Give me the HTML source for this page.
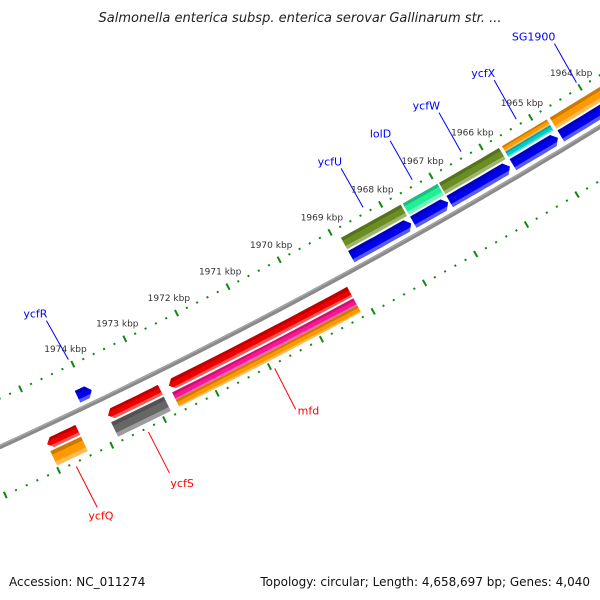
<!DOCTYPE html>
<html><head><meta charset="utf-8"><style>
html,body{margin:0;padding:0;background:#fff;}
svg{display:block;font-family:"DejaVu Sans","Liberation Sans",sans-serif;}
</style></head><body>
<svg id="map" width="600" height="600" viewBox="0 0 600 600" xmlns="http://www.w3.org/2000/svg">
<defs id="defs"></defs>
<text x="300" y="22" text-anchor="middle" font-size="13" font-style="italic" fill="#222">Salmonella enterica subsp. enterica serovar Gallinarum str. ...</text>
<g id="ticks"></g>
<g id="backbone"></g>
<g id="features"></g>
<g id="labels"></g>
<text x="9" y="586" font-size="12" fill="#111">Accession: NC_011274</text>
<text x="590" y="586" font-size="12" text-anchor="end" fill="#111">Topology: circular; Length: 4,658,697 bp; Genes: 4,040</text>
</svg>
<script>
const geneNames  = ["ycfU","lolD","ycfW","ycfX","SG1900","ycfR","ycfQ","ycfS","mfd"];
const geneStart  = [1967.70,1966.97,1965.74,1964.78,1963.30,1973.90,1974.41,1972.84,1969.19];
const geneEnd    = [1968.88,1967.66,1966.94,1965.68,1964.72,1974.17,1974.99,1973.84,1972.68];
const geneStrand = [1,1,1,1,1,1,-1,-1,-1];
const cogTop     = ["#6b8e23","#22ee99","#6b8e23","#ff9900","#ff9900",null,"#ff9900","#666666","#ff1493"];
const cogBottom  = ["#6b8e23","#22ee99","#6b8e23","#00cccc","#ff9900",null,"#ff9900","#666666","#ff9900"];
const labelDx    = [1,1,1,1,1,1,-9,1,2];
const labelDy    = [-3,-3,-3,-3,-3,-3,12,14,5];
const tickStart = 1962, tickEnd = 1977, tickStep = 0.2;
const kbpLabels = [1964,1965,1966,1967,1968,1969,1970,1971,1972,1973,1974];

const NS="http://www.w3.org/2000/svg";
const CX=-2327, CY=-4638, R0=5592, A0=58.4, DEG=0.597;
function pt(k,dr){const a=(A0+(k-1964)*DEG)*Math.PI/180;const r=R0+dr;return [CX+r*Math.cos(a),CY+r*Math.sin(a)];}
function el(tag,attrs,parent){const e=document.createElementNS(NS,tag);for(const k in attrs)e.setAttribute(k,attrs[k]);parent.appendChild(e);return e;}
function arcPts(k1,k2,dr,n){const a=[];for(let i=0;i<=n;i++){a.push(pt(k1+(k2-k1)*i/n,dr));}return a;}
function shade(c,f){const n=parseInt(c.slice(1),16);let r=n>>16,g=(n>>8)&255,b=n&255;
  if(f<0){r*=1+f;g*=1+f;b*=1+f;}else{r+=(255-r)*f;g+=(255-g)*f;b+=(255-b)*f;}
  return "rgb("+Math.round(r)+","+Math.round(g)+","+Math.round(b)+")";}
const defs=document.getElementById('defs');
let gid=0;
function grad(color,k,r1,r2){const id="g"+(gid++);const p1=pt(k,r1),p2=pt(k,r2);
  const g=el('linearGradient',{id:id,gradientUnits:"userSpaceOnUse",x1:p1[0],y1:p1[1],x2:p2[0],y2:p2[1]},defs);
  el('stop',{offset:"0",  "stop-color":shade(color,-0.2)},g);
  el('stop',{offset:"0.25","stop-color":shade(color,-0.2)},g);
  el('stop',{offset:"0.26","stop-color":color},g);
  el('stop',{offset:"0.72","stop-color":color},g);
  el('stop',{offset:"0.73","stop-color":shade(color,0.35)},g);
  el('stop',{offset:"1","stop-color":shade(color,0.35)},g);
  return "url(#"+id+")";}
function poly(points){return points.map(p=>p[0].toFixed(1)+","+p[1].toFixed(1)).join(" ");}

// tick rings
const tg=document.getElementById('ticks');
[-44,46].forEach(ring=>{
  for(let i=0;tickStart+i*tickStep<=tickEnd+1e-9;i++){
    const k=tickStart+i*tickStep;const major=Math.abs(k-Math.round(k))<1e-6;
    const h=major?3.5:1;const a=pt(k,ring-h),b=pt(k,ring+h);
    const t=el('line',{x1:a[0],y1:a[1],x2:b[0],y2:b[1],stroke:"#118811","stroke-width":2},tg);
    
    
  }
});
kbpLabels.forEach(k=>{const p=pt(k,-61);
  const t=el('text',{x:p[0],y:p[1]+3,"text-anchor":"middle","font-size":"9",fill:"#333"},tg);
  t.textContent=k+" kbp";
  
  
});

// backbone
const bb=document.getElementById('backbone');
const bp=arcPts(1961,1978,0,40);
const bl=el('polyline',{points:poly(bp),fill:"none",stroke:"#8a8a8a","stroke-width":4.5},bb);


const bl2=el('polyline',{points:poly(arcPts(1961,1978,-1.2,40)),fill:"none",stroke:"#a8a8a8","stroke-width":1.2},bb);



// features
const fg=document.getElementById('features');
const lg=document.getElementById('labels');
for(let i=0;i<geneNames.length;i++){
  const s=geneStart[i],e=geneEnd[i],st=geneStrand[i],mid=(s+e)/2;
  const r1=st>0?-19:12, r2=st>0?-6:23;
  const col=st>0?"#0000ee":"#ee0000";
  const tip=0.09, rm=(r1+r2)/2;
  let pts;
  if(st>0){pts=[pt(s,rm)].concat(arcPts(s+tip,e,r1,12)).concat(arcPts(e,s+tip,r2,12));}
  else{pts=arcPts(s,e-tip,r1,12).concat([pt(e,rm)]).concat(arcPts(e-tip,s,r2,12));}
  const g=el('polygon',{points:poly(pts),fill:grad(col,mid,r1,r2)},fg);
  
  
  if(cogTop[i]){
    const c1=st>0?-34:25,c2=st>0?-21:41,cm=(c1+c2)/2;
    if(cogTop[i]===cogBottom[i]){
      const c=el('polygon',{points:poly(arcPts(s,e,c1,12).concat(arcPts(e,s,c2,12))),fill:grad(cogTop[i],mid,c1,c2)},fg);
      
      
    }else{
      const c=el('polygon',{points:poly(arcPts(s,e,c1,12).concat(arcPts(e,s,cm,12))),fill:grad(cogTop[i],mid,c1,cm)},fg);
      
      
      const d=el('polygon',{points:poly(arcPts(s,e,cm,12).concat(arcPts(e,s,c2,12))),fill:grad(cogBottom[i],mid,cm,c2)},fg);
      
      
    }
  }
  // label
  const lc=st>0?"#0000ff":"#ff0000";
  const pe=pt(mid,st>0?-50:50);
  const ps=st>0?[pe[0]-22,pe[1]-39]:[pe[0]+21,pe[1]+41];
  const ln=el('line',{x1:pe[0],y1:pe[1],x2:ps[0],y2:ps[1],stroke:lc,"stroke-width":1},lg);
  
  
  const tx=el('text',{x:ps[0]+labelDx[i],y:ps[1]+labelDy[i],"text-anchor":st>0?"end":"start","font-size":"11",fill:lc},lg);
  tx.textContent=geneNames[i];
  
  
}
</script>
</body></html>
